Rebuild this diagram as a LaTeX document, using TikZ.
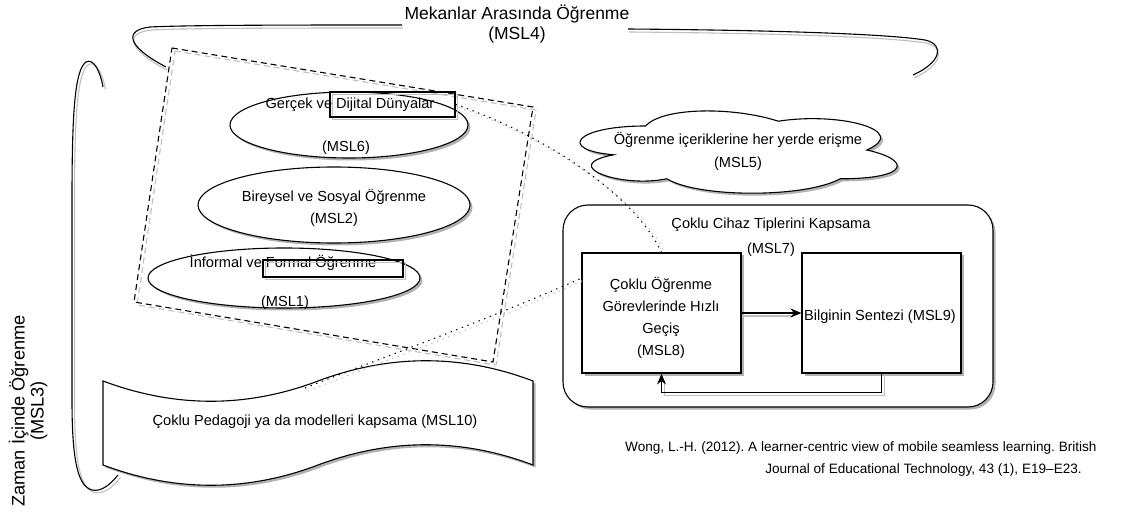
\documentclass[tikz,border=0pt]{standalone}
\usepackage{fontspec}
\setmainfont{Liberation Sans}
\usetikzlibrary{shapes.geometric,shadows,arrows.meta,calc}
\frenchspacing
\begin{document}
\begin{tikzpicture}[x=1pt,y=-1pt,
  every node/.style={font=\fontsize{14.6}{22}\selectfont},
  ln/.style={line width=1.1pt,black},
  shd/.style={line width=1.1pt,black!25},
  shad/.style={drop shadow={shadow xshift=2.5pt,shadow yshift=-2.5pt,fill=black,opacity=0.3}},
  ell/.style={ellipse,draw,ln,fill=white,shad,inner sep=0pt},
  boxx/.style={draw,ln,fill=white,shad,inner sep=0pt},
  lbl/.style={inner sep=0pt,align=center},
  dashy/.style={dash pattern=on 6pt off 4pt},
  dotty/.style={dash pattern=on 1.3pt off 4.7pt},
  tip/.style={-{Stealth[length=11pt,width=9pt]}},
]
\useasboundingbox (0,0) rectangle (1141,513);

% ---------- top brace (MSL4)
\foreach \s/\st in {3/shd,0/ln}{
\draw[\st,shift={(\s*0.3,\s)}] (402,25) .. controls (300,25) and (190,25) .. (150,27)
   .. controls (124,30) and (126,46) .. (166,67);
\draw[\st,shift={(\s*0.3,\s)}] (628,29) .. controls (750,30) and (880,33) .. (925,40)
   .. controls (946,45) and (940,63) .. (913,75);
}
\node[lbl,font=\fontsize{17.5}{20}\selectfont] (t4) at (517,24) {Mekanlar Arasında Öğrenme\\(MSL4)};

% ---------- left brace (MSL3)
\foreach \s/\st in {2.5/shd,0/ln}{
\draw[\st,shift={(\s,\s)}] (103,87) .. controls (100,70) and (93,58) .. (86,62)
   .. controls (75,70) and (72,110) .. (72,200) -- (72,400)
   .. controls (72,462) and (78,486) .. (92,490) .. controls (101,492) and (110,485) .. (118,475);
}
\node[lbl,rotate=90,font=\fontsize{18.2}{19}\selectfont] (t3) at (28,411) {Zaman İçinde Öğrenme\\(MSL3)};

% ---------- dashed rotated frame
\draw[shd,dashy] (175,51) -- (536,110) -- (496,365) -- (137,305) -- cycle;
\draw[ln,dashy] (172,48) -- (533,107) -- (493,362) -- (134,302) -- cycle;

% ---------- ellipses
\node[ell,minimum width=238pt,minimum height=66pt] (e6) at (349,125) {};
\node[lbl] (e6a) at (350,105) {Gerçek ve Dijital Dünyalar};
\node[lbl] (e6b) at (346,148) {(MSL6)};
\draw[shd] (332.5,94.5) rectangle (457.5,119.5);
\node[draw,ln,minimum width=125pt,minimum height=25pt,inner sep=0pt] (r6) at (392.5,104.5) {};

\node[ell,minimum width=272pt,minimum height=76pt] (e2) at (334,205) {};
\node[lbl] (e2a) at (334,197) {Bireysel ve Sosyal Öğrenme};
\node[lbl] (e2b) at (334,220) {(MSL2)};

\node[ell,minimum width=272pt,minimum height=60pt] (e1) at (284,278) {};
\node[lbl] (e1a) at (283,263) {İnformal ve Formal Öğrenme};
\node[lbl] (e1b) at (285,303) {(MSL1)};
\draw[shd] (265.5,262.5) rectangle (405.5,279.5);
\node[draw,ln,minimum width=140pt,minimum height=17pt,inner sep=0pt] (r1) at (333,268.5) {};

% ---------- cloud (MSL5)
\begin{scope}[shift={(557,102)},x=354pt,y=-96pt]
\path[draw,ln,fill=white,shad] (0.25,0.25) .. controls (0.05,0.25) and (0,0.5) .. (0.16,0.55)
  .. controls (0,0.66) and (0.18,0.9) .. (0.31,0.8)
  .. controls (0.4,1) and (0.7,1) .. (0.8,0.8)
  .. controls (1,0.8) and (1,0.6) .. (0.875,0.5)
  .. controls (1,0.3) and (0.8,0.1) .. (0.625,0.2)
  .. controls (0.5,0.05) and (0.3,0.05) .. (0.25,0.25) -- cycle;
\end{scope}
\node[lbl,font=\fontsize{14.6}{23}\selectfont] (t5) at (738,151.5) {Öğrenme içeriklerine her yerde erişme\\(MSL5)};

% ---------- container (MSL7)
\node[boxx,rounded corners=25pt,minimum width=430pt,minimum height=202pt] (c7) at (778,306) {};
\node[lbl,font=\fontsize{14.6}{25}\selectfont] (t7) at (771,237.5) {Çoklu Cihaz Tiplerini Kapsama\\(MSL7)};
\node[boxx,minimum width=159pt,minimum height=120pt] (b8) at (661.5,313) {};
\node[lbl] (t8) at (661,318) {Çoklu Öğrenme\\Görevlerinde Hızlı\\Geçiş\\(MSL8)};
\node[boxx,minimum width=159pt,minimum height=120pt] (b9) at (881.5,313) {};
\node[lbl] (t9) at (880,317) {Bilginin Sentezi (MSL9)};

\draw[shd] ($(b8.east)+(0,3)$) -- ($(b9.west)+(-8,3)$);
\draw[ln,tip] (b8.east) -- (b9.west);
\draw[shd] ($(b9.south)+(3,0)$) -- ++(0,22) -| ($(b8.south)+(3,8)$);
\draw[ln,tip] (b9.south) -- ++(0,19) -| (b8.south);

% ---------- tape (MSL10)
\path[draw,ln,fill=white,shad] (103,381) .. controls (175,408) and (247,408) .. (318,381)
  .. controls (390,354) and (462,354) .. (533,381) -- (533,465)
  .. controls (462,438) and (390,438) .. (318,465)
  .. controls (247,492) and (175,492) .. (103,465) -- cycle;
\node[lbl] (t10) at (315,422) {Çoklu Pedagoji ya da modelleri kapsama (MSL10)};

% ---------- dotted links
\coordinate (p10) at (305,388);
\coordinate (m8) at (582,278);
\draw[shd,dotty] ($(r6.east)+(3,3)$) .. controls (548,138) and (638,198) .. ($(b8.north)+(3,0)$);
\draw[ln,dotty] (r6.east) .. controls (545,135) and (635,195) .. (b8.north);
\draw[shd,dotty] ($(p10)+(3,3)$) .. controls (363,369) and (483,326) .. ($(m8)+(0,3)$);
\draw[ln,dotty] (p10) .. controls (360,366) and (480,323) .. (m8);

% ---------- citation
\node[inner sep=0pt,anchor=west,font=\fontsize{13.6}{16}\selectfont] (cit1) at (625,448) {Wong, L.-H. (2012). A learner-centric view of mobile seamless learning. British};
\node[inner sep=0pt,anchor=east,font=\fontsize{13.6}{16}\selectfont] (cit2) at (1082,470) {Journal of Educational Technology, 43 (1), E19–E23.};
\end{tikzpicture}
\end{document}
